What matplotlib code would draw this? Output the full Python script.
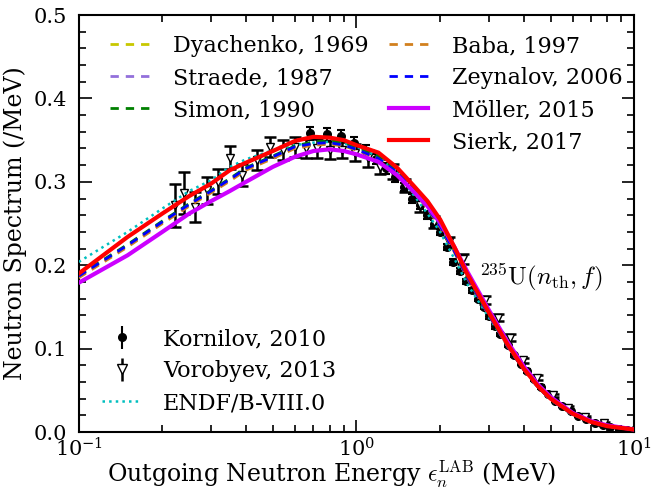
import numpy as np
import matplotlib
matplotlib.use("Agg")
import matplotlib.pyplot as plt
from matplotlib.lines import Line2D
from matplotlib.ticker import MultipleLocator, LogLocator, NullFormatter

plt.rcParams['font.family'] = ['DejaVu Serif']
plt.rcParams['mathtext.fontset'] = 'cm'

# --- model curves on a shared energy grid (MeV) ---
e_grid = [0.1, 0.15, 0.2, 0.25, 0.3, 0.35, 0.4, 0.5, 0.6, 0.7, 0.8, 0.9, 1.0,
          1.2, 1.4, 1.6, 1.8, 2.0, 2.25, 2.5, 3.0, 3.5, 4.0, 4.5, 5.0, 6.0,
          7.0, 8.0, 10.0]

sierk = [0.190, 0.234, 0.262, 0.283, 0.298, 0.314, 0.323, 0.337, 0.349, 0.354,
         0.353, 0.350, 0.344, 0.335, 0.317, 0.296, 0.277, 0.255, 0.222, 0.190,
         0.143, 0.105, 0.076, 0.055, 0.040, 0.022, 0.012, 0.007, 0.003]
moller = [0.179, 0.212, 0.240, 0.262, 0.277, 0.289, 0.300, 0.318, 0.330, 0.337,
          0.339, 0.337, 0.333, 0.324, 0.308, 0.289, 0.271, 0.251, 0.222, 0.193,
          0.146, 0.108, 0.079, 0.057, 0.042, 0.023, 0.013, 0.008, 0.003]
zeynalov = [0.187, 0.224, 0.252, 0.273, 0.289, 0.303, 0.316, 0.330, 0.342, 0.346,
            0.347, 0.344, 0.339, 0.328, 0.311, 0.291, 0.269, 0.247, 0.217, 0.186,
            0.140, 0.103, 0.075, 0.054, 0.039, 0.021, 0.012, 0.007, 0.003]
baba = [0.185, 0.222, 0.250, 0.271, 0.287, 0.301, 0.314, 0.328, 0.340, 0.344,
        0.345, 0.343, 0.338, 0.327, 0.310, 0.290, 0.268, 0.246, 0.216, 0.185,
        0.140, 0.103, 0.075, 0.054, 0.039, 0.021, 0.012, 0.007, 0.003]
dyachenko = [0.186, 0.223, 0.251, 0.272, 0.288, 0.302, 0.315, 0.329, 0.341, 0.345,
             0.346, 0.344, 0.339, 0.328, 0.311, 0.291, 0.269, 0.247, 0.217, 0.186,
             0.140, 0.103, 0.075, 0.054, 0.039, 0.021, 0.012, 0.007, 0.003]
straede = [0.187, 0.224, 0.252, 0.273, 0.289, 0.303, 0.316, 0.330, 0.342, 0.346,
           0.347, 0.345, 0.340, 0.329, 0.312, 0.291, 0.269, 0.247, 0.217, 0.186,
           0.140, 0.103, 0.075, 0.054, 0.039, 0.021, 0.012, 0.007, 0.003]
simon = [0.188, 0.225, 0.253, 0.274, 0.290, 0.304, 0.317, 0.331, 0.343, 0.348,
         0.349, 0.347, 0.342, 0.331, 0.314, 0.293, 0.270, 0.248, 0.218, 0.186,
         0.140, 0.103, 0.075, 0.054, 0.039, 0.021, 0.012, 0.007, 0.003]
endf = [0.204, 0.240, 0.268, 0.289, 0.302, 0.318, 0.327, 0.338, 0.344, 0.347,
        0.348, 0.346, 0.342, 0.330, 0.311, 0.285, 0.262, 0.240, 0.208, 0.178,
        0.137, 0.104, 0.075, 0.055, 0.039, 0.021, 0.012, 0.007, 0.003]

# --- Kornilov, 2010 ---
kor_e = [0.68, 0.78, 0.88, 0.98, 1.08, 1.18, 1.28, 1.38, 1.48, 1.58, 1.69, 1.79,
         1.9, 2.0, 2.12, 2.23, 2.35, 2.47, 2.6, 2.73, 2.87, 3.0, 3.15, 3.3, 3.5,
         3.7, 3.9, 4.1, 4.35, 4.6, 4.9, 5.2, 5.5, 5.9, 6.3, 6.7, 7.2, 7.7, 8.2,
         8.8, 9.4, 10.0]
kor_y = [0.358, 0.357, 0.355, 0.347, 0.337, 0.327, 0.316, 0.306, 0.294, 0.280,
         0.272, 0.260, 0.250, 0.240, 0.222, 0.204, 0.193, 0.181, 0.170, 0.160,
         0.150, 0.139, 0.127, 0.117, 0.104, 0.092, 0.082, 0.073, 0.063, 0.054,
         0.045, 0.037, 0.031, 0.025, 0.019, 0.015, 0.011, 0.008, 0.006, 0.004,
         0.003, 0.002]
kor_err = [0.008, 0.008, 0.007, 0.007, 0.007, 0.006, 0.006, 0.006, 0.005, 0.005,
           0.005, 0.005, 0.004, 0.004, 0.004, 0.004, 0.004, 0.003, 0.003, 0.003,
           0.003, 0.003, 0.003, 0.002, 0.002, 0.002, 0.002, 0.002, 0.002, 0.002,
           0.001, 0.001, 0.001, 0.001, 0.001, 0.001, 0.001, 0.001, 0.001, 0.001,
           0.001, 0.001]

# --- Vorobyev, 2013 ---
vor_e = [0.222, 0.24, 0.262, 0.29, 0.317, 0.35, 0.386, 0.438, 0.487, 0.545, 0.6,
         0.66, 0.72, 0.8, 0.89, 0.99, 1.1, 1.22, 1.35, 1.5, 1.7, 1.9, 2.15, 2.42,
         2.9, 3.23, 3.58, 3.98, 4.47, 5.1, 5.8, 6.66, 7.8]
vor_y = [0.272, 0.287, 0.270, 0.290, 0.300, 0.329, 0.308, 0.326, 0.342, 0.338,
         0.342, 0.340, 0.340, 0.338, 0.338, 0.335, 0.328, 0.318, 0.312, 0.296,
         0.272, 0.252, 0.228, 0.207, 0.158, 0.137, 0.113, 0.086, 0.065, 0.044,
         0.029, 0.018, 0.011]
vor_err = [0.026, 0.025, 0.018, 0.016, 0.015, 0.014, 0.013, 0.012, 0.012, 0.012,
           0.012, 0.011, 0.011, 0.011, 0.010, 0.010, 0.010, 0.009, 0.009, 0.008,
           0.008, 0.007, 0.006, 0.006, 0.005, 0.004, 0.004, 0.003, 0.003, 0.002,
           0.002, 0.001, 0.001]

fig = plt.figure(figsize=(6.62, 4.94), dpi=100)
ax = fig.add_axes([0.119, 0.1255, 0.839, 0.844])

ax.errorbar(kor_e, kor_y, yerr=kor_err, fmt='o', color='k', ms=5.5,
            elinewidth=1.5, capsize=3, capthick=1.5, zorder=2)
ax.errorbar(vor_e, vor_y, yerr=vor_err, fmt='v', color='k', mfc='white',
            mec='k', ms=6, elinewidth=1.8, capsize=4, capthick=1.8, zorder=2)
ax.plot(e_grid, endf, ':', color='c', lw=1.8, zorder=3)

dash = (3, 2.5)
ax.plot(e_grid, dyachenko, '--', color='#c8c800', lw=2, dashes=dash, zorder=4)
ax.plot(e_grid, straede, '--', color='#9370db', lw=2, dashes=dash, zorder=4)
ax.plot(e_grid, simon, '--', color='#008000', lw=2, dashes=dash, zorder=4)
ax.plot(e_grid, baba, '--', color='#d2801e', lw=2, dashes=dash, zorder=4)
ax.plot(e_grid, zeynalov, '--', color='#0000ff', lw=2, dashes=dash, zorder=4)
ax.plot(e_grid, moller, '-', color='#cc00ff', lw=3, zorder=5)
ax.plot(e_grid, sierk, '-', color='#ff0000', lw=3, zorder=6)

ax.set_xscale('log')
ax.set_xlim(0.1, 10)
ax.set_ylim(0, 0.5)
ax.yaxis.set_major_locator(MultipleLocator(0.1))
ax.yaxis.set_minor_locator(MultipleLocator(0.02))
ax.yaxis.set_major_formatter(matplotlib.ticker.FormatStrFormatter('%.1f'))
ax.xaxis.set_minor_locator(LogLocator(base=10, subs=np.arange(2, 10)))
ax.xaxis.set_minor_formatter(NullFormatter())
ax.tick_params(which='both', direction='in', top=True, right=True,
               labelsize=15, width=1.2)
ax.tick_params(which='major', length=9)
ax.tick_params(which='minor', length=5)
ax.tick_params(axis='x', which='major', pad=4)
ax.tick_params(axis='y', which='major', pad=8.5)
for s in ax.spines.values():
    s.set_linewidth(1.5)

ax.set_xlabel(r'Outgoing Neutron Energy $\epsilon_n^{\rm LAB}$ (MeV)',
              fontsize=17, va='baseline')
ax.xaxis.set_label_coords(0.5, 0.024, transform=fig.transFigure)
ax.set_ylabel('Neutron Spectrum (/MeV)', fontsize=17, labelpad=5)

ax.text(4.6, 0.186, r'$^{235}{\rm U}(n_{\rm th},f)$', fontsize=18,
        ha='center', va='center')

# top legend: two columns, 3 + 4 entries
h = [Line2D([], [], ls='--', dashes=dash, lw=2, color=c)
     for c in ['#c8c800', '#9370db', '#008000']]
h.append(Line2D([], [], ls='none'))
h += [Line2D([], [], ls='--', dashes=dash, lw=2, color=c)
      for c in ['#d2801e', '#0000ff']]
h += [Line2D([], [], lw=3, color='#cc00ff'), Line2D([], [], lw=3, color='#ff0000')]
labels = ['Dyachenko, 1969', 'Straede, 1987', 'Simon, 1990', '',
          'Baba, 1997', 'Zeynalov, 2006', 'Möller, 2015', 'Sierk, 2017']
leg1 = ax.legend(h, labels, ncol=2, loc='upper left', frameon=False,
                 fontsize=16, handlelength=1.75, columnspacing=0.9,
                 labelspacing=0.45, borderaxespad=0.5, handletextpad=1.1,
                 bbox_to_anchor=(0.02, 1.0))
ax.add_artist(leg1)

kh = ax.errorbar([], [], yerr=[], fmt='o', color='k', ms=5.5, elinewidth=1.5,
                 capsize=3)
vh = ax.errorbar([], [], yerr=[], fmt='v', color='k', mfc='white', ms=7,
                 elinewidth=1.8, capsize=4)
eh = Line2D([], [], ls=':', color='c', lw=1.8)
ax.legend([kh, vh, eh], ['Kornilov, 2010', 'Vorobyev, 2013', 'ENDF/B-VIII.0'],
          loc='lower left', frameon=False, fontsize=16, handlelength=1.75,
          labelspacing=0.45, borderaxespad=0.4, handletextpad=1.0,
          bbox_to_anchor=(0.01, 0.0))

fig.savefig('out.png', dpi=100)
